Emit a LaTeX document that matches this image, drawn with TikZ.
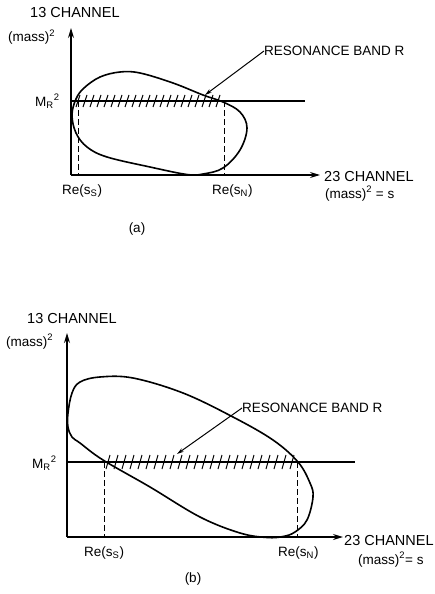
\documentclass[tikz,border=0pt]{standalone}
\usepackage{amsmath}
\usepackage{fontspec}
\setmainfont{Liberation Sans}
\usetikzlibrary{arrows.meta}

\begin{document}
\begin{tikzpicture}[
    x=1pt, y=-1pt,
    >={Stealth[length=10pt, width=6pt]},
    axis/.style={->, line width=1.2pt},
    level/.style={line width=1.1pt},
    bound/.style={line width=1.6pt},
    drop/.style={line width=1pt, dash pattern=on 6pt off 3pt},
    hatch/.style={line width=1pt},
    pointer/.style={-{Stealth[length=7pt, width=4pt]}, line width=1pt},
    big/.style={font=\fontsize{14.5}{17}\selectfont, inner sep=0pt},
    lbl/.style={font=\fontsize{13.5}{15}\selectfont, inner sep=0pt}
]
\useasboundingbox (0,0) rectangle (435,594);

% (a)
\coordinate (oa) at (71,175);
\coordinate (ya) at (71,28);
\coordinate (xa) at (320,175);
\coordinate (mra) at (71,101);
\coordinate (mrea) at (305,101);
\coordinate (ssa) at (78,101);
\coordinate (ssba) at (78,175);
\coordinate (sna) at (224,101);
\coordinate (snba) at (224,175);
\draw[axis] (oa) -- (ya);
\draw[axis] (oa) -- (xa);
\draw[level] (mra) -- (mrea);
\draw[drop] (ssa) -- (ssba);
\draw[drop] (sna) -- (snba);
\foreach \x in {78,85,...,220}
  \draw[hatch] (\x-2,107) -- (\x+2,95);
\draw[bound] plot[smooth cycle, tension=0.6] coordinates {
  (72,115) (76,99) (84,88) (100,77) (120,72) (140,73) (173,83) (203,95)
  (223,102) (240,112) (247,128) (240,150) (223,168) (203,174) (187,174.5)
  (150,167) (107,157) (87,147) (76,133)};
\node[big, anchor=west] (vcha) at (30,12.5) {13 CHANNEL};
\node[lbl, anchor=base west] (vmassa) at (8,42) {(mass)$^{\text{2}}$};
\node[lbl, anchor=base west] (mrlabela) at (35,106) {M$_{\text{R}}{}^{\text{2}}$};
\node[lbl, anchor=west] (banda) at (264,51) {RESONANCE BAND R};
\coordinate (tipa) at (205,95);
\draw[pointer] (banda.west) -- (tipa);
\node[lbl, anchor=base west] (ssla) at (62,194) {Re(s$_{\text{S}}$)};
\node[lbl, anchor=base west] (snla) at (212,194) {Re(s$_{\text{N}}$)};
\node[big, anchor=west] (hcha) at (324,177) {23 CHANNEL};
\node[lbl, anchor=base west] (hmassa) at (325,198) {(mass)$^{\text{2}}$ = s};
\node[lbl] (capa) at (137,229) {(a)};

% (b)
\coordinate (ob) at (67,537);
\coordinate (yb) at (67,333);
\coordinate (xb) at (343,537);
\coordinate (mrb) at (67,462);
\coordinate (mreb) at (355,462);
\coordinate (ssb) at (104,462);
\coordinate (ssbb) at (104,537);
\coordinate (snb) at (297,462);
\coordinate (snbb) at (297,537);
\draw[axis] (ob) -- (yb);
\draw[axis] (ob) -- (xb);
\draw[level] (mrb) -- (mreb);
\draw[drop] (ssb) -- (ssbb);
\draw[drop] (snb) -- (snbb);
\foreach \x in {108,116,...,294}
  \draw[hatch] (\x-2,469) -- (\x+2,455);
\draw[bound] plot[smooth cycle, tension=0.6] coordinates {
  (68,413) (72,393) (80,382) (100,377) (133,378) (183,393) (233,417)
  (273,440) (298,462) (310,483) (313,497) (307,520) (295,532) (283,536.5)
  (267,537.5) (240,533) (200,517) (150,487) (103,460) (80,443) (72,437)
  (68,427)};
\node[big, anchor=west] (vchb) at (27,319) {13 CHANNEL};
\node[lbl, anchor=base west] (vmassb) at (6,346) {(mass)$^{\text{2}}$};
\node[lbl, anchor=base west] (mrlabelb) at (32,468) {M$_{\text{R}}{}^{\text{2}}$};
\node[lbl, anchor=west] (bandb) at (242,408) {RESONANCE BAND R};
\coordinate (tipb) at (177,454);
\draw[pointer] (bandb.west) -- (tipb);
\node[lbl, anchor=base west] (sslb) at (84,556) {Re(s$_{\text{S}}$)};
\node[lbl, anchor=base west] (snlb) at (278,556) {Re(s$_{\text{N}}$)};
\node[big, anchor=west] (hchb) at (344,541) {23 CHANNEL};
\node[lbl, anchor=base west] (hmassb) at (358,564) {(mass)$^{\text{2}}$= s};
\node[lbl] (capb) at (193,579) {(b)};
\end{tikzpicture}
\end{document}
